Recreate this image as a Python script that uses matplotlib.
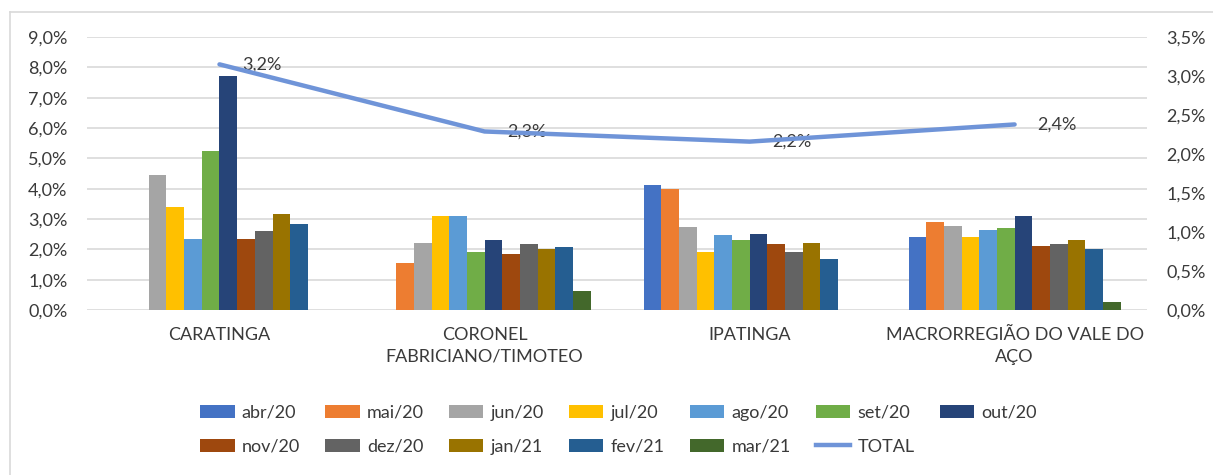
import numpy as np
import matplotlib
matplotlib.use("Agg")
import matplotlib.pyplot as plt
from matplotlib.lines import Line2D
from matplotlib.ticker import FuncFormatter

plt.rcParams["font.family"] = ["Lato", "DejaVu Sans"]

# ---------------------------------------------------------------------------
# Data (percent values)
# ---------------------------------------------------------------------------
categories = ["CARATINGA", "CORONEL\nFABRICIANO/TIMOTEO", "IPATINGA",
              "MACRORREGIÃO DO VALE DO\nAÇO"]
months = ["abr/20", "mai/20", "jun/20", "jul/20", "ago/20", "set/20", "out/20",
          "nov/20", "dez/20", "jan/21", "fev/21", "mar/21"]

caratinga = [0.0, 0.0, 4.46, 3.41, 2.33, 5.25, 7.72, 2.33, 2.60, 3.16, 2.85, 0.0]
coronel = [0.0, 1.54, 2.22, 3.11, 3.11, 1.93, 2.30, 1.85, 2.18, 2.00, 2.07, 0.64]
ipatinga = [4.14, 3.98, 2.74, 1.93, 2.48, 2.30, 2.52, 2.18, 1.91, 2.22, 1.69, 0.0]
macro = [2.40, 2.90, 2.77, 2.40, 2.63, 2.71, 3.11, 2.10, 2.18, 2.30, 2.00, 0.26]

total = [3.15, 2.29, 2.16, 2.38]
total_labels = ["3,2%", "2,3%", "2,2%", "2,4%"]

colors = ["#4472C4", "#ED7D31", "#A5A5A5", "#FFC000", "#5B9BD5", "#70AD47",
          "#264478", "#9E480E", "#636363", "#997300", "#255E91", "#43682B"]
line_color = "#6F94D8"
text_color = "#3A3A3A"
fs = 13

# ---------------------------------------------------------------------------
# Plot
# ---------------------------------------------------------------------------
fig = plt.figure(figsize=(12.13, 4.75), dpi=100)
ax = fig.add_axes([0.0717, 0.347, 0.874, 0.575])

values = np.array([caratinga, coronel, ipatinga, macro])  # (cat, month)
x = np.arange(len(categories))
n = len(months)
group_w = 0.8
bw = group_w / n

for j, (m, c) in enumerate(zip(months, colors)):
    ax.bar(x - group_w / 2 + bw * (j + 0.5), values[:, j], width=bw,
           color=c, label=m, zorder=3, linewidth=0)

ax.set_xlim(-0.5, len(categories) - 0.5)
ax.set_ylim(0, 9)
ax.set_yticks(np.arange(0, 9.5, 1))
ax.yaxis.set_major_formatter(FuncFormatter(lambda v, _: f"{v:.1f}%".replace(".", ",")))
ax.set_xticks(x)
ax.set_xticklabels(categories, fontsize=fs, color=text_color, linespacing=1.45)
ax.tick_params(axis="both", length=0, labelsize=fs, labelcolor=text_color)
ax.tick_params(axis="x", pad=12)
ax.tick_params(axis="y", pad=14)
ax.grid(axis="y", color="#D9D9D9", linewidth=1.2, zorder=0)
for s in ax.spines.values():
    s.set_visible(False)

ax2 = ax.twinx()
ax2.set_ylim(0, 3.5)
ax2.set_yticks(np.arange(0, 3.75, 0.5))
ax2.yaxis.set_major_formatter(FuncFormatter(lambda v, _: f"{v:.1f}%".replace(".", ",")))
ax2.tick_params(axis="y", length=0, labelsize=fs, labelcolor=text_color, pad=14)
for s in ax2.spines.values():
    s.set_visible(False)
ax2.plot(x, total, color=line_color, linewidth=3.2, solid_capstyle="round",
         zorder=4, label="TOTAL")
for xi, yi, lab in zip(x, total, total_labels):
    ax2.annotate(lab, (xi, yi), xytext=(16, 0), textcoords="offset points",
                 ha="left", va="center", fontsize=fs, color=text_color)

# Legend: order so column-major fill reads row by row
handles, labels = ax.get_legend_handles_labels()
handles.append(Line2D([], [], color=line_color, linewidth=3.2))
labels.append("TOTAL")
order = [0, 7, 1, 8, 2, 9, 3, 10, 4, 11, 5, 12, 6]
fig.legend([handles[i] for i in order], [labels[i] for i in order],
           loc="center", bbox_to_anchor=(0.51, 0.095), ncol=7, frameon=False,
           fontsize=fs, labelcolor=text_color, handlelength=1.9,
           handleheight=0.75, handletextpad=0.4, columnspacing=1.4,
           labelspacing=1.0)

# outer chart frame (top and left edges visible)
fig.add_artist(Line2D([10 / 1213, 1], [1 - 12 / 475, 1 - 12 / 475],
                      color="#D9D9D9", linewidth=1.2, transform=fig.transFigure))
fig.add_artist(Line2D([10 / 1213, 10 / 1213], [0, 1 - 12 / 475],
                      color="#D9D9D9", linewidth=1.2, transform=fig.transFigure))

fig.savefig("out.png", dpi=100)
